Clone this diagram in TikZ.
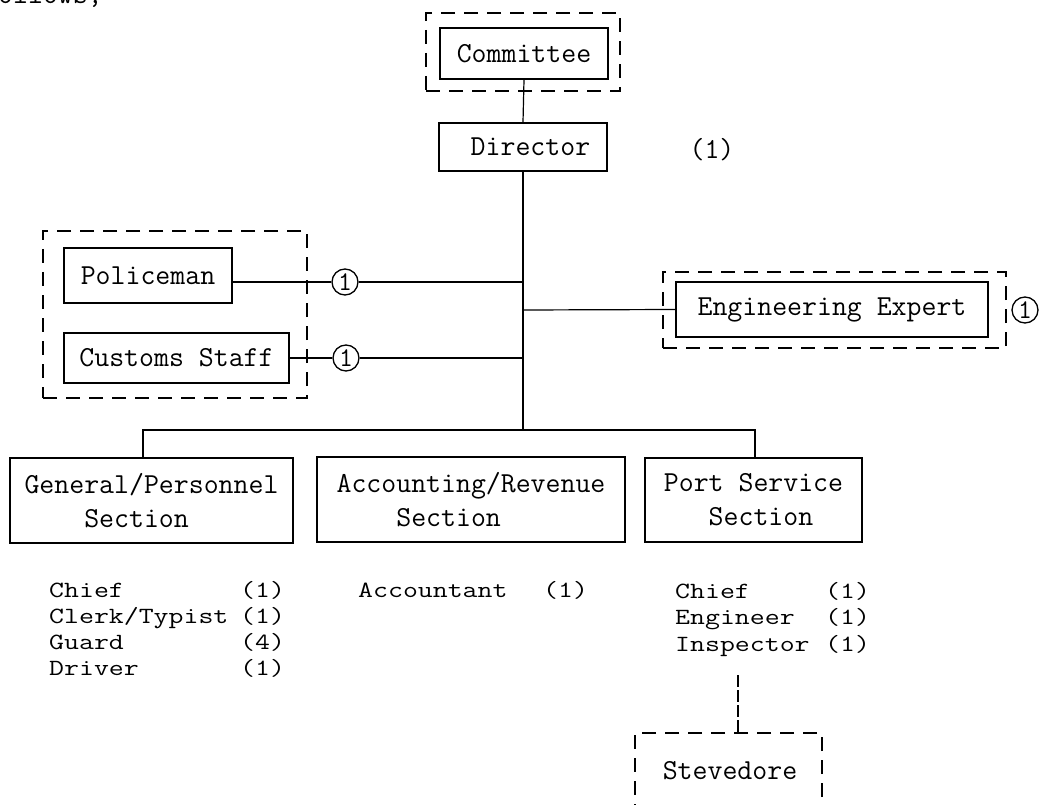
\documentclass[tikz,border=0pt]{standalone}
\usepackage{graphicx}
\newcommand{\squash}[1]{\scalebox{1}[0.8]{#1}}
\begin{document}
\begin{tikzpicture}[x=1pt,y=-1pt,
  every node/.style={font=\fontsize{29}{34}\selectfont\ttfamily},
  box/.style={draw,line width=1.6pt,rectangle,inner sep=0pt,align=left},
  dbox/.style={draw,line width=1.3pt,dash pattern=on 14pt off 9pt,inner sep=0pt},
  conn/.style={line width=1.2pt},
  dconn/.style={line width=1.1pt,dash pattern=on 12pt off 3pt},
  num/.style={draw,circle,line width=1.3pt,minimum size=26pt,inner sep=0pt,font=\fontsize{27}{27}\selectfont\ttfamily},
  item/.style={anchor=base west,inner sep=0pt}]
\useasboundingbox (0,0) rectangle (1050,805);
\clip (0,0) rectangle (1050,805);

% cut-off text at the top
\node[anchor=base west,inner sep=0pt] (frag) at (-2,4) {ollows;};

% Committee / Director
\node[dbox,minimum width=194pt,minimum height=78pt] (comout) at (523,52) {};
\node[box,minimum width=168pt,minimum height=51pt] (com) at (524,53.5) {Committee};
\node[box,minimum width=168pt,minimum height=48pt] (dir) at (523,147) {\phantom{x}Director};
\node[inner sep=0pt] (dircount) at (712,150) {(1)};
\draw[conn] (com.south) -- (dir.north);
\coordinate (bus) at (523,430);
\draw[conn] (dir.south) -- (bus);

% Left group
\node[dbox,minimum width=264pt,minimum height=167pt] (leftgrp) at (175,314.5) {};
\node[box,minimum width=168pt,minimum height=55pt] (pol) at (148,275.5) {Policeman};
\node[box,minimum width=225pt,minimum height=50pt] (cus) at (176.5,358) {Customs Staff};
\node[num] (n1) at (345,282) {1};
\node[num] (n2) at (346,358) {1};
\coordinate (jp) at (523,282);
\coordinate (jc) at (523,358);
\draw[conn] (pol.east |- n1) -- (n1.west);
\draw[conn] (n1.east) -- (jp);
\draw[conn] (cus.east) -- (n2.west);
\draw[conn] (n2.east) -- (jc);

% Engineering expert
\node[dbox,minimum width=343pt,minimum height=76pt] (engout) at (834.5,310) {};
\node[box,minimum width=312pt,minimum height=55pt] (eng) at (832,309.5) {Engineering Expert};
\node[num] (n3) at (1025,310) {1};
\coordinate (je) at (523,310);
\draw[conn] (je) -- (eng.west);

% Sections
\node[box,minimum width=283pt,minimum height=85pt] (gen) at (151.5,500.5) {General/Personnel\\\phantom{xxxx}Section};
\node[box,minimum width=308pt,minimum height=85pt] (acc) at (471,499.5) {Accounting/Revenue\\\phantom{xxxx}Section};
\node[box,minimum width=217pt,minimum height=84pt] (port) at (753.5,500) {Port Service\\\phantom{xxx}Section};
\coordinate (busl) at (143,430);
\coordinate (busr) at (755,430);
\draw[conn] (gen.north -| busl) -- (busl) -- (busr) -- (port.north -| busr);

% Left list
\node[item] (g1) at (49,597) {\squash{Chief}};
\node[item] (g1n) at (240,597) {\squash{(1)}};
\node[item] (g2) at (49,623) {\squash{Clerk/Typist}};
\node[item] (g2n) at (240,623) {\squash{(1)}};
\node[item] (g3) at (49,649) {\squash{Guard}};
\node[item] (g3n) at (240,649) {\squash{(4)}};
\node[item] (g4) at (49,675) {\squash{Driver}};
\node[item] (g4n) at (240,675) {\squash{(1)}};

% Middle list
\node[item] (a1) at (358,597) {\squash{Accountant}};
\node[item] (a1n) at (543,597) {\squash{(1)}};

% Right list
\node[item] (p1) at (675,598) {\squash{Chief}};
\node[item] (p1n) at (825,598) {\squash{(1)}};
\node[item] (p2) at (675,624) {\squash{Engineer}};
\node[item] (p2n) at (825,624) {\squash{(1)}};
\node[item] (p3) at (675,651) {\squash{Inspector}};
\node[item] (p3n) at (825,651) {\squash{(1)}};

% Stevedore
\node[dbox,minimum width=187pt,minimum height=107pt] (stevbox) at (728.5,786.5) {};
\node[inner sep=0pt] (stev) at (730,771) {Stevedore};
\coordinate (drop) at (738,675);
\draw[dconn] (drop) -- (drop |- stevbox.north);
\end{tikzpicture}
\end{document}
